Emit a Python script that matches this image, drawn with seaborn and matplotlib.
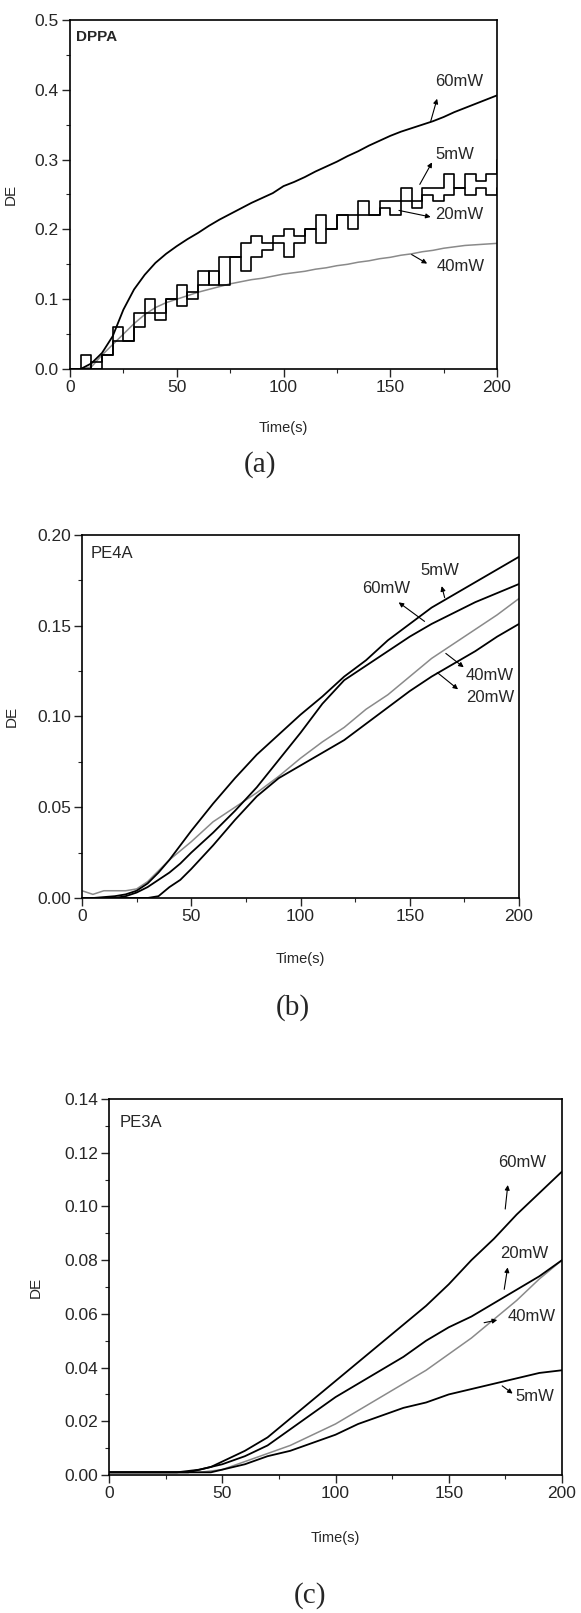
import numpy as np
import pandas as pd
import matplotlib
matplotlib.use('Agg')
import matplotlib.pyplot as plt
from matplotlib.ticker import MultipleLocator, FormatStrFormatter
import seaborn as sns

# ---- data ----
# (a) DPPA
t_a = [0, 5, 10, 15, 20, 25, 30, 35, 40, 45, 50, 55, 60, 65, 70, 75, 80, 85, 90, 95, 100,
       105, 110, 115, 120, 125, 130, 135, 140, 145, 150, 155, 160, 165, 170, 175, 180, 185,
       190, 195, 200]
a_60 = [0.0, 0.0, 0.008, 0.023, 0.047, 0.085, 0.114, 0.135, 0.152, 0.165, 0.176, 0.186,
        0.195, 0.205, 0.214, 0.222, 0.230, 0.238, 0.245, 0.252, 0.262, 0.268, 0.275, 0.283,
        0.290, 0.297, 0.305, 0.312, 0.320, 0.327, 0.334, 0.340, 0.345, 0.350, 0.355, 0.361,
        0.368, 0.374, 0.380, 0.386, 0.392]
a_5 = [0.0, 0.02, 0.0, 0.02, 0.06, 0.04, 0.08, 0.10, 0.08, 0.10, 0.12, 0.10, 0.14, 0.12,
       0.16, 0.16, 0.18, 0.19, 0.18, 0.19, 0.20, 0.19, 0.20, 0.22, 0.20, 0.22, 0.22, 0.24,
       0.22, 0.24, 0.24, 0.26, 0.24, 0.26, 0.26, 0.28, 0.26, 0.28, 0.27, 0.28, 0.30]
a_20 = [0.0, 0.0, 0.01, 0.02, 0.04, 0.04, 0.06, 0.08, 0.07, 0.10, 0.09, 0.11, 0.12, 0.14,
        0.12, 0.16, 0.14, 0.16, 0.17, 0.18, 0.16, 0.18, 0.20, 0.18, 0.20, 0.22, 0.20, 0.22,
        0.22, 0.23, 0.22, 0.24, 0.23, 0.25, 0.24, 0.25, 0.26, 0.25, 0.26, 0.25, 0.26]
a_40 = [0.0, 0.0, 0.003, 0.02, 0.035, 0.05, 0.065, 0.078, 0.088, 0.095, 0.100, 0.105,
        0.110, 0.114, 0.118, 0.122, 0.125, 0.128, 0.130, 0.133, 0.136, 0.138, 0.140, 0.143,
        0.145, 0.148, 0.150, 0.153, 0.155, 0.158, 0.160, 0.163, 0.165, 0.168, 0.170, 0.173,
        0.175, 0.177, 0.178, 0.179, 0.180]

# (b) PE4A
t_b = [0, 5, 10, 15, 20, 25, 30, 35, 40, 45, 50, 60, 70, 80, 90, 100, 110, 120, 130, 140,
       150, 160, 170, 180, 190, 200]
b_5 = [0.0, 0.0, 0.0005, 0.001, 0.002, 0.004, 0.008, 0.014, 0.021, 0.029, 0.037, 0.052,
       0.066, 0.079, 0.090, 0.101, 0.111, 0.122, 0.131, 0.142, 0.151, 0.160, 0.167, 0.174,
       0.181, 0.188]
b_60 = [0.0, 0.0, 0.0, 0.0, 0.001, 0.003, 0.006, 0.010, 0.014, 0.019, 0.025, 0.036, 0.048,
        0.061, 0.076, 0.091, 0.107, 0.120, 0.128, 0.136, 0.144, 0.151, 0.157, 0.163, 0.168,
        0.173]
b_40 = [0.004, 0.002, 0.004, 0.004, 0.004, 0.005, 0.009, 0.015, 0.021, 0.026, 0.031, 0.042,
        0.050, 0.058, 0.067, 0.077, 0.086, 0.094, 0.104, 0.112, 0.122, 0.132, 0.140, 0.148,
        0.156, 0.165]
b_20 = [0.0, 0.0, 0.0, 0.0, 0.0, 0.0, 0.0, 0.001, 0.006, 0.010, 0.016, 0.029, 0.043, 0.056,
        0.066, 0.073, 0.080, 0.087, 0.096, 0.105, 0.114, 0.122, 0.129, 0.136, 0.144, 0.151]

# (c) PE3A
t_c = [0, 10, 20, 30, 35, 40, 45, 50, 60, 70, 80, 90, 100, 110, 120, 130, 140, 150, 160,
       170, 180, 190, 200]
c_60 = [0.001, 0.001, 0.001, 0.001, 0.0015, 0.002, 0.003, 0.005, 0.009, 0.014, 0.021, 0.028,
        0.035, 0.042, 0.049, 0.056, 0.063, 0.071, 0.080, 0.088, 0.097, 0.105, 0.113]
c_20 = [0.001, 0.001, 0.001, 0.001, 0.001, 0.002, 0.003, 0.004, 0.007, 0.011, 0.017, 0.023,
        0.029, 0.034, 0.039, 0.044, 0.050, 0.055, 0.059, 0.064, 0.069, 0.074, 0.080]
c_40 = [0.001, 0.001, 0.001, 0.001, 0.001, 0.001, 0.0015, 0.002, 0.005, 0.008, 0.011, 0.015,
        0.019, 0.024, 0.029, 0.034, 0.039, 0.045, 0.051, 0.058, 0.065, 0.073, 0.080]
c_5 = [0.001, 0.001, 0.001, 0.001, 0.001, 0.001, 0.001, 0.002, 0.004, 0.007, 0.009, 0.012,
       0.015, 0.019, 0.022, 0.025, 0.027, 0.030, 0.032, 0.034, 0.036, 0.038, 0.039]

sns.set_style('ticks')
plt.rcParams['font.family'] = ['Liberation Sans', 'DejaVu Sans']

W, H = 581, 1613
fig = plt.figure(figsize=(W / 100, H / 100), dpi=100)


def make_ax(left, right, top, bottom):
    return fig.add_axes([left / W, 1 - bottom / H, (right - left) / W, (bottom - top) / H])


def draw(ax, t, y, color='black', lw=1.3, steps=False):
    df = pd.DataFrame({'t': t, 'y': y})
    sns.lineplot(data=df, x='t', y='y', ax=ax, color=color, linewidth=lw,
                 drawstyle='steps-post' if steps else 'default', legend=False)


def style(ax, ymax, ymaj, fmt, ylab_x):
    ax.set_xlim(0, 200)
    ax.set_ylim(0, ymax)
    ax.xaxis.set_major_locator(MultipleLocator(50))
    ax.xaxis.set_minor_locator(MultipleLocator(25))
    ax.yaxis.set_major_locator(MultipleLocator(ymaj))
    ax.yaxis.set_minor_locator(MultipleLocator(ymaj / 2))
    ax.yaxis.set_major_formatter(FormatStrFormatter(fmt))
    ax.tick_params(which='major', direction='out', length=6, width=1.0, labelsize=12.5, pad=2)
    ax.tick_params(which='minor', direction='out', length=3, width=0.8)
    for s in ax.spines.values():
        s.set_linewidth(1.2)
        s.set_color('black')
    ax.set_xlabel('Time(s)', fontsize=10.5)
    ax.set_ylabel('DE', fontsize=11)
    ax.xaxis.set_label_coords(0.5, -0.15)
    ax.yaxis.set_label_coords(ylab_x, 0.5)


def label(ax, text, tx, ty, tail, head):
    ax.annotate('', xy=head, xytext=tail,
                arrowprops=dict(arrowstyle='-|>', color='black', lw=0.8, mutation_scale=7))
    ax.text(tx, ty, text, ha='center', va='center', fontsize=12)


gray = '#8a8a8a'

# panel (a)
ax1 = make_ax(70, 497, 20, 369)
draw(ax1, t_a, a_40, color=gray, lw=1.1)
draw(ax1, t_a, a_20, steps=True, lw=1.2)
draw(ax1, t_a, a_5, steps=True, lw=1.2)
draw(ax1, t_a, a_60)
style(ax1, 0.5, 0.1, '%.1f', -0.122)
ax1.text(2.8, 0.476, 'DPPA', fontsize=11, fontweight='bold', va='center')
label(ax1, '60mW', 182.3, 0.412, (168.5, 0.350), (172.3, 0.391))
label(ax1, '5mW', 180.2, 0.308, (163.2, 0.261), (170.2, 0.2995))
label(ax1, '20mW', 182.3, 0.221, (152.8, 0.228), (170.2, 0.217))
label(ax1, '40mW', 183.2, 0.147, (158.9, 0.166), (168.4, 0.149))

# panel (b)
ax2 = make_ax(82, 519, 535, 898)
draw(ax2, t_b, b_40, color=gray, lw=1.1)
draw(ax2, t_b, b_20)
draw(ax2, t_b, b_60)
draw(ax2, t_b, b_5)
style(ax2, 0.20, 0.05, '%.2f', -0.145)
ax2.text(4.0, 0.190, 'PE4A', fontsize=12, va='center')
label(ax2, '5mW', 163.8, 0.1806, (166.3, 0.164), (164.3, 0.1733))
label(ax2, '60mW', 139.1, 0.1707, (157.8, 0.1515), (143.9, 0.1638))
label(ax2, '40mW', 186.7, 0.1226, (165.5, 0.1357), (175.7, 0.1262))
label(ax2, '20mW', 186.7, 0.1104, (161.6, 0.1252), (173.1, 0.114))

# panel (c)
ax3 = make_ax(109, 562, 1099, 1475)
draw(ax3, t_c, c_40, color=gray, lw=1.1)
draw(ax3, t_c, c_5)
draw(ax3, t_c, c_20)
draw(ax3, t_c, c_60)
style(ax3, 0.14, 0.02, '%.2f', -0.147)
ax3.text(4.9, 0.1314, 'PE3A', fontsize=12, va='center')
label(ax3, '60mW', 182.5, 0.1164, (174.8, 0.098), (176.2, 0.109))
label(ax3, '20mW', 183.3, 0.0824, (174.3, 0.0681), (176.2, 0.0783))
label(ax3, '40mW', 186.6, 0.0592, (164.4, 0.0565), (172.6, 0.0579))
label(ax3, '5mW', 188.2, 0.0293, (172.6, 0.0338), (179.2, 0.0297))

# captions
for cap, cx, cy in [('(a)', 260, 465), ('(b)', 293, 1008), ('(c)', 310, 1596)]:
    fig.text(cx / W, 1 - cy / H, cap, ha='center', va='center', fontsize=21,
             family=['Liberation Serif', 'DejaVu Serif'])

fig.savefig('out.png', dpi=100)
